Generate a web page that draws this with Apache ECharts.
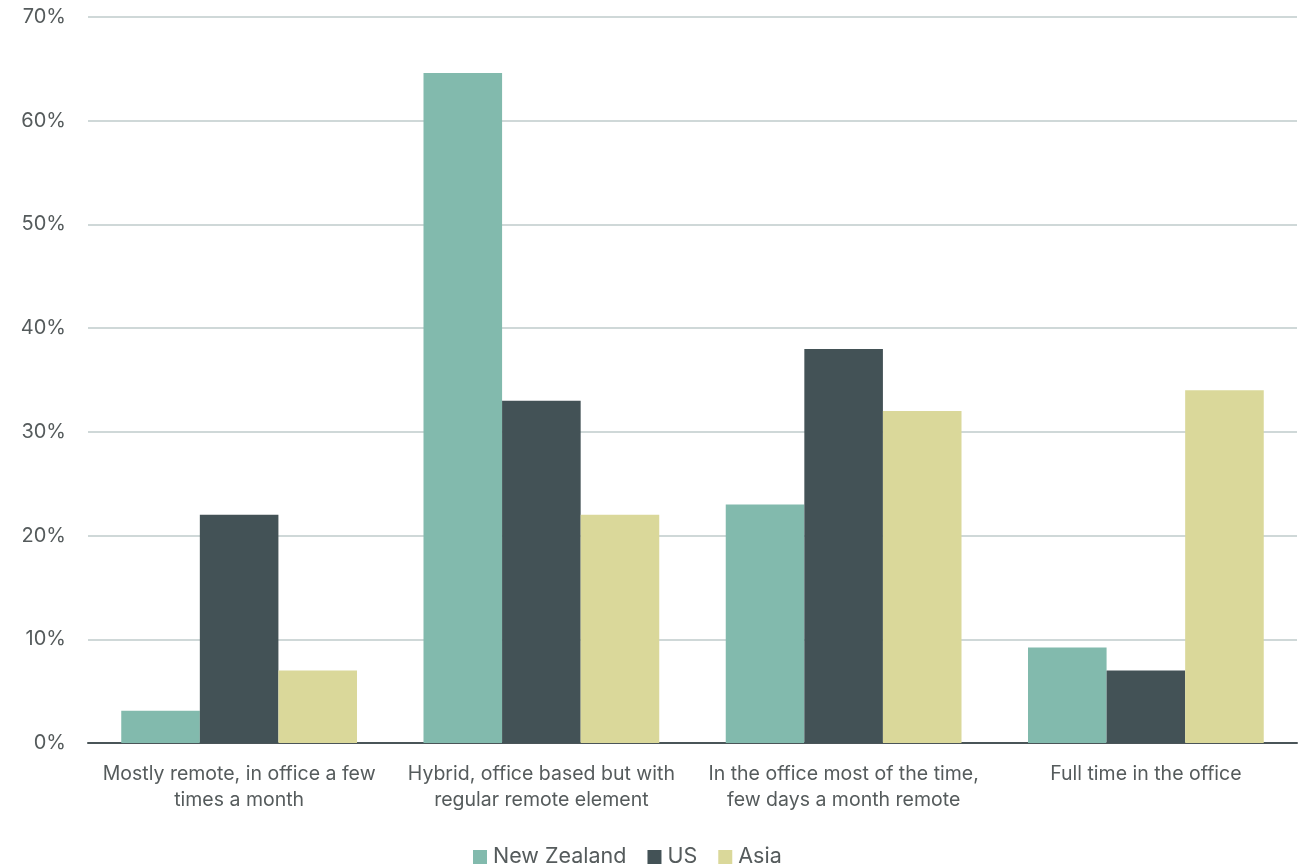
<!DOCTYPE html>
<html>
<head>
<meta charset="utf-8">
<script src="https://cdn.jsdelivr.net/npm/echarts@6/dist/echarts.min.js"></script>
<style>
  html, body { margin: 0; padding: 0; background: #fff; }
  #chart { width: 1312px; height: 867px; }
</style>
</head>
<body>
<div id="chart"></div>
<script>
// Working arrangement categories and share of respondents (%) by region
const categories = [
  'Mostly remote, in office a few\ntimes a month',
  'Hybrid, office based but with\nregular remote element',
  'In the office most of the time,\nfew days a month remote',
  'Full time in the office'
];
const newZealand = [3.1, 64.6, 23, 9.2];
const us = [22, 33, 38, 7];
const asia = [7, 22, 32, 34];
const seriesNames = ['New Zealand', 'US', 'Asia'];

const textColor = '#555b5c';
const font = 'Inter, Roboto, "Liberation Sans", sans-serif';

const chart = echarts.init(document.getElementById('chart'));
chart.setOption({
  animation: false,
  color: ['#82baad', '#435256', '#dad89a'],
  grid: { left: 88, right: 15, top: 17, bottom: 124, containLabel: false },
  legend: {
    top: 846,
    left: 473,
    padding: 0,
    itemWidth: 14,
    itemHeight: 14,
    itemGap: 21,
    icon: 'rect',
    textStyle: { color: textColor, fontSize: 21.5, fontFamily: font, padding: [0, 0, 0, 1] },
    data: seriesNames
  },
  xAxis: {
    type: 'category',
    data: categories,
    axisLine: { lineStyle: { color: '#4a5558', width: 2 } },
    axisTick: { show: false },
    axisLabel: {
      color: textColor, fontSize: 19.5, fontFamily: font,
      lineHeight: 26, margin: 18, interval: 0
    }
  },
  yAxis: {
    type: 'value',
    min: 0, max: 70, interval: 10,
    axisLine: { show: false },
    axisTick: { show: false },
    splitLine: { lineStyle: { color: '#cfd8d8', width: 2 } },
    axisLabel: {
      color: textColor, fontSize: 20, fontFamily: font, margin: 22,
      formatter: v => v + '%'
    }
  },
  series: [
    { name: seriesNames[0], type: 'bar', data: newZealand, barGap: 0, barCategoryGap: '22%' },
    { name: seriesNames[1], type: 'bar', data: us, barGap: 0, barCategoryGap: '22%' },
    { name: seriesNames[2], type: 'bar', data: asia, barGap: 0, barCategoryGap: '22%' }
  ]
});
</script>
</body>
</html>
